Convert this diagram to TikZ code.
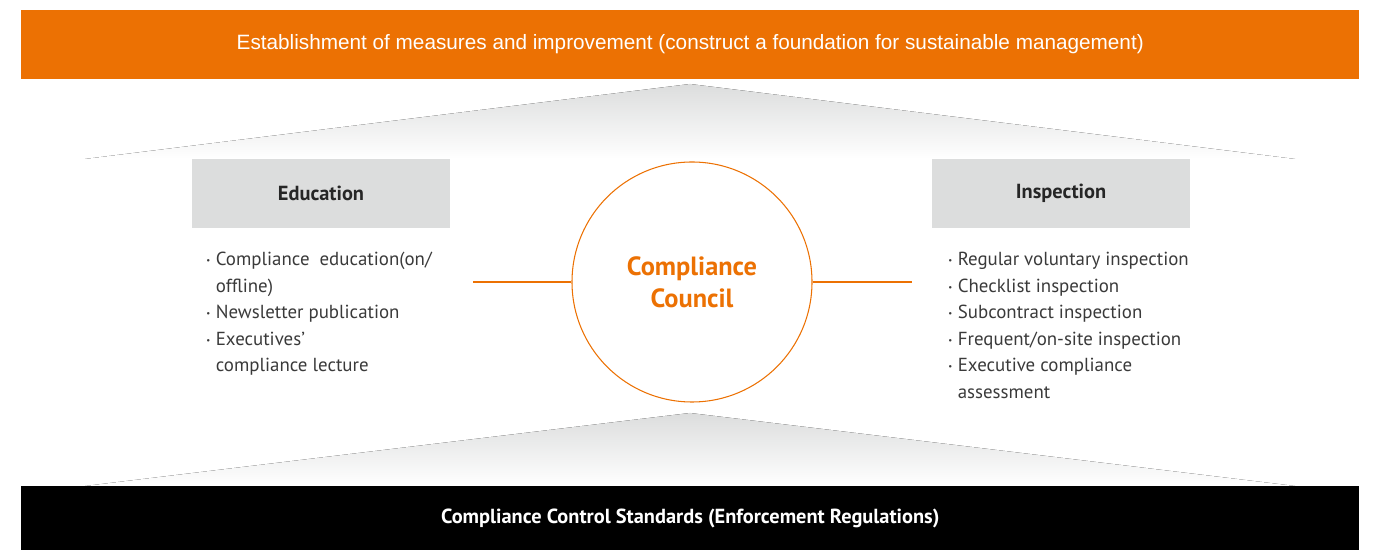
\documentclass[tikz,border=0pt]{standalone}
\usepackage{fontspec}
\setmainfont{PT Sans}
\newfontfamily\headfont{Liberation Sans}
\usetikzlibrary{positioning}
\definecolor{brandOrange}{HTML}{EC7103}
\definecolor{boxGray}{HTML}{DCDDDD}
\definecolor{textGray}{HTML}{3A3A3A}
\definecolor{fadeGray}{HTML}{DCDDDD}
\newcommand{\itemdot}{\makebox[0.19cm][l]{\raisebox{0.2ex}{\tiny•}}}
\newcommand{\itemgap}{\hspace*{0.19cm}}

\begin{document}
\begin{tikzpicture}[
  bar/.style={minimum width=26.75cm,inner sep=0pt,text=white},
  head/.style={fill=boxGray,minimum width=5.16cm,minimum height=1.38cm,inner sep=0pt,
    font=\bfseries\fontsize{11.6}{13}\selectfont,text=black!85},
  items/.style={align=left,inner sep=0pt,font=\fontsize{10.75}{15.1}\selectfont,text=textGray},
  fade/.style={top color=fadeGray,bottom color=white,draw=none},
  link/.style={brandOrange,line width=0.6pt}]
\useasboundingbox (0,0) rectangle (27.5,11);
% shaded slopes
\fill[fade] (1.7,7.82) -- (13.8,9.32) -- (25.9,7.82) -- cycle;
\fill[fade] (1.7,1.28) -- (13.8,2.74) -- (25.9,1.28) -- cycle;
% bars
\node[bar,fill=brandOrange,minimum height=1.38cm,font=\headfont\fontsize{11.8}{13}\selectfont] (topBar) at (13.805,10.11)
  {Establishment of measures and improvement (construct a foundation for sustainable management)};
\node[bar,fill=black,minimum height=1.28cm,font=\bfseries\fontsize{11.6}{13}\selectfont] (baseBar) at (13.805,0.64)
  {Compliance Control Standards (Enforcement Regulations)};
% side blocks
\node[head] (eduHead) at (6.42,7.13) {Education};
\node[head] (inspHead) at (21.22,7.13) {Inspection};
\node[items,anchor=north west] (eduList) at (4.12,5.96)
  {\itemdot Compliance\hspace{0.2cm}education(on/\\ \itemgap offline)\\ \itemdot Newsletter publication\\
   \itemdot Executives'\\ \itemgap compliance lecture};
\node[items,anchor=north west] (inspList) at (18.96,5.96)
  {\itemdot Regular voluntary inspection\\ \itemdot Checklist inspection\\ \itemdot Subcontract inspection\\
   \itemdot Frequent/on-site inspection\\ \itemdot Executive compliance\\ \itemgap assessment};
% council
\node[circle,draw=brandOrange,line width=0.6pt,fill=white,minimum size=4.8cm,inner sep=0pt,align=center,
  text=brandOrange,font=\bfseries\fontsize{15}{18.2}\selectfont] (council) at (13.84,5.36) {Compliance\\Council};
\coordinate (eduEnd) at (9.46,5.36);
\coordinate (inspEnd) at (18.24,5.36);
\draw[link] (eduEnd) -- (council);
\draw[link] (council) -- (inspEnd);
\end{tikzpicture}
\end{document}
